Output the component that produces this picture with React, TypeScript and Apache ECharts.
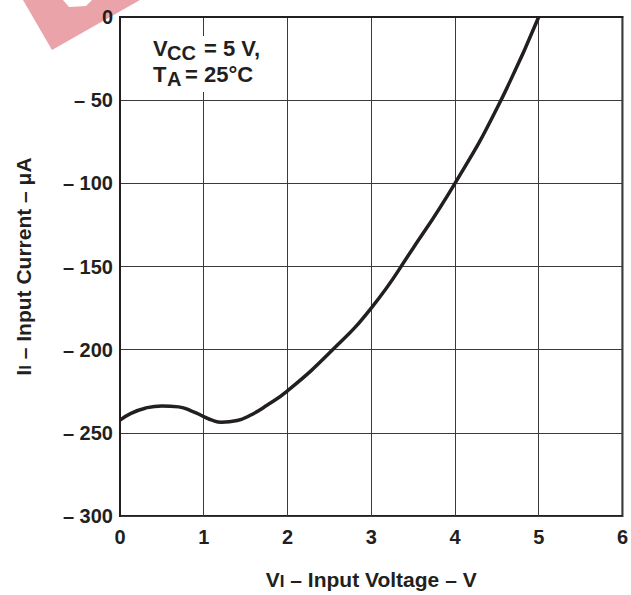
import React, { useEffect, useRef } from "react";
import * as echarts from "echarts";

const voltage = [0, 0.12, 0.3, 0.5, 0.7, 0.87, 1.0, 1.1, 1.21, 1.4, 1.55, 1.75, 2.0, 2.5, 3.0, 3.5, 4.0, 4.5, 5.0];
const current = [-242.4, -238.6, -235.2, -233.8, -234.4, -237.2, -240.2, -242.4, -243.6, -242.6, -239.6, -233.6, -224.8, -202, -175, -139, -100, -55, 0];

const xTicks = [0, 1, 2, 3, 4, 5, 6];
const yTicks = [0, -50, -100, -150, -200, -250, -300];

const FONT = "'Liberation Sans', Arial, Helvetica, sans-serif";
const INK = "#231f20";

function txt(text: string, x: number, y: number, size: number) {
  return {
    type: "text",
    z: 10,
    x,
    y,
    style: {
      text,
      fill: INK,
      fontSize: size,
      fontWeight: "bold",
      fontFamily: FONT,
      align: "left",
      verticalAlign: "middle",
    },
  };
}

export default function App() {
  const ref = useRef<HTMLDivElement>(null);
  useEffect(() => {
    if (!ref.current) return;
    const chart = echarts.init(ref.current, undefined, { renderer: "svg" });
    const data = voltage.map((v, i) => [v, current[i]]);
    const fmtY = (v: number) => (v === 0 ? "0" : "\u2013 " + Math.abs(v));
    const nameRich = {
      a: { fontFamily: FONT, fontWeight: "bold", fontSize: 21, color: INK, lineHeight: 22 },
      b: { fontFamily: FONT, fontWeight: "bold", fontSize: 17, color: INK, lineHeight: 6, verticalAlign: "bottom" },
    };
    chart.setOption({
      animation: false,
      backgroundColor: "#ffffff",
      grid: {
        left: 120,
        right: 5,
        top: 17,
        bottom: 77,
        show: true,
        borderColor: INK,
        borderWidth: 2,
        backgroundColor: "transparent",
      },
      xAxis: {
        type: "value",
        min: xTicks[0],
        max: xTicks[xTicks.length - 1],
        interval: 1,
        axisLine: { show: true, lineStyle: { color: INK, width: 2 } },
        axisTick: { show: false },
        splitLine: { show: true, lineStyle: { color: "#3a3a3a", width: 1 } },
        axisLabel: {
          color: INK,
          fontFamily: FONT,
          fontWeight: "bold",
          fontSize: 20,
          margin: 11,
        },
        name: "{a|V}{b|I}{a| \u2013 Input Voltage \u2013 V}",
        nameLocation: "middle",
        nameGap: 52,
        nameTextStyle: { rich: nameRich },
      },
      yAxis: {
        type: "value",
        min: yTicks[yTicks.length - 1],
        max: yTicks[0],
        interval: 50,
        axisLine: { show: true, lineStyle: { color: INK, width: 2 } },
        axisTick: { show: false },
        splitLine: { show: true, lineStyle: { color: "#3a3a3a", width: 1 } },
        axisLabel: {
          color: INK,
          fontFamily: FONT,
          fontWeight: "bold",
          fontSize: 20,
          margin: 7,
          formatter: fmtY,
        },
        name: "{a|I}{b|I}{a| \u2013 Input Current \u2013 \u03bcA}",
        nameLocation: "middle",
        nameRotate: 90,
        nameGap: 86,
        nameTextStyle: { rich: nameRich },
      },
      graphic: [
        {
          type: "polygon",
          z: 0,
          shape: { points: [[23, 0], [140, 0], [52, 50]] },
          style: { fill: "#eba3aa" },
        },
        {
          type: "polygon",
          z: 0,
          shape: { points: [[63, 0], [92, 0], [86, 6], [69, 7]] },
          style: { fill: "#ffffff" },
        },
        { type: "rect", z: 9, shape: { x: 148, y: 36, width: 116, height: 56 }, style: { fill: "#ffffff" } },
        txt("V", 153, 48, 22),
        txt("CC", 167, 53, 20),
        txt("= 5 V,", 204, 48, 22),
        txt("T", 153, 74, 22),
        txt("A", 167, 79, 20),
        txt("= 25\u00b0C", 185, 74, 22),
      ],
      series: [
        {
          type: "line",
          data,
          smooth: 0.5,
          showSymbol: false,
          lineStyle: { color: INK, width: 3.5 },
        },
      ],
    });
    return () => chart.dispose();
  }, []);
  return (
    <div
      ref={ref}
      style={{ position: "absolute", left: 0, top: 0, width: 631, height: 595 }}
    />
  );
}
